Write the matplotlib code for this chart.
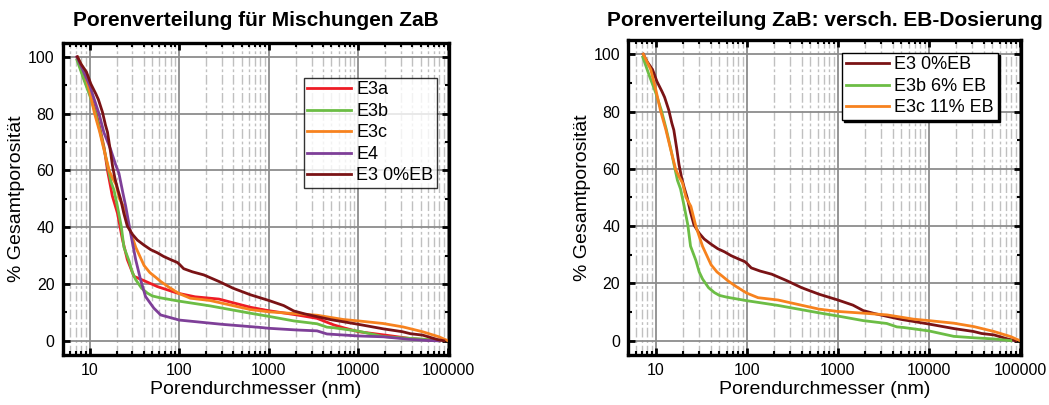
import matplotlib
matplotlib.use("Agg")
import matplotlib.pyplot as plt
from matplotlib.ticker import FixedLocator, LogLocator, NullFormatter, FuncFormatter, MultipleLocator

plt.rcParams["font.family"] = ["Liberation Sans", "DejaVu Sans"]

# pore diameter (nm) and cumulative share of total porosity (%)
e3_0eb_d = [7.3, 8, 9.2, 10.3, 11.7, 12.5, 13.9, 15, 15.8, 17, 18, 19.2, 20.5, 22.2, 24, 26.3,
            30, 34, 40, 48, 57, 67, 80, 95, 100, 112, 140, 188, 277, 400, 624, 1000, 1466,
            1900, 2500, 3450, 5000, 6800, 10000, 19000, 31000, 38000, 52000, 75000, 90000]
e3_0eb_p = [100, 97.5, 94.7, 90.5, 87, 85, 80.5, 76, 73.5, 67, 61.5, 57, 53.5, 49.8, 45, 40.4,
            37.5, 35.5, 33.8, 32.1, 31, 29.7, 28.6, 27.6, 27, 25.4, 24.3, 23.2, 20.9, 18.5, 16.2,
            14.2, 12.4, 10.5, 9.5, 8.5, 7.4, 6.7, 5.8, 4.2, 3.2, 2.5, 2.0, 0.5, 0]

e3a_d = [7.2, 8.5, 10, 11.5, 13, 14.5, 15.8, 17.9, 20.4, 23.2, 26.3, 31.2, 40.3, 56.9, 95, 150,
         277, 624, 1000, 2065, 3450, 5300, 7000, 10000, 20000, 37900, 60000, 80000]
e3a_p = [100, 93, 87, 81.5, 75, 68, 60, 51, 45, 35.7, 28.6, 22.7, 21.2, 19.1, 16.8, 15.5,
         14.7, 11.8, 10.6, 9.1, 7.9, 5.6, 4.5, 3.2, 2.0, 0.8, 0.3, 0]

e3b_d = [7.2, 8.5, 10, 11.5, 13, 14.5, 16, 17.3, 18.7, 20.5, 22.5, 24.1, 27.6, 30, 32.7, 38,
         44, 50, 60, 98, 220, 624, 1000, 1900, 3450, 4460, 5270, 10000, 18800, 31300, 51900, 79400]
e3b_p = [99, 92.5, 86.5, 80.5, 74, 67.5, 61, 56, 53, 47, 40.4, 33, 28, 24, 21.5, 18.5,
         16.8, 15.8, 15.2, 14, 12.3, 9.7, 8.6, 7.0, 6.0, 4.8, 4.6, 3.4, 1.5, 1.0, 0.6, 0]

e3c_d = [7.3, 8.8, 10, 11.3, 12.9, 14.6, 16.6, 18.2, 19.7, 21.5, 24.3, 27.6, 32.7, 40.5, 47,
         54.4, 62, 76.4, 100, 133, 220, 624, 1000, 1900, 3460, 6800, 10000, 18800, 31300,
         51900, 79400, 100000]
e3c_p = [100, 94.7, 87.7, 80.2, 73.7, 66.7, 59.7, 57, 55, 50, 46.9, 39.9, 32.9, 26.5, 24,
         22.4, 20.9, 18.9, 16.6, 15.0, 14.2, 11.0, 10.2, 9.6, 9.0, 7.5, 7.0, 6.1, 4.9,
         3.2, 1.4, 0]

e4_d = [7.2, 8.5, 10, 11.2, 12.7, 14.4, 17.1, 19.5, 21.2, 23.5, 25.2, 28.6, 32.6, 37, 42, 52,
        62, 100, 300, 805, 1000, 2065, 3450, 4460, 10000, 19100, 37900, 60000, 80000]
e4_p = [100, 95, 90, 85.2, 80, 73.4, 67.5, 62, 59, 52, 47.5, 38, 28.6, 21.5, 15.6, 11.5,
        9.1, 7.3, 5.8, 4.7, 4.4, 3.8, 3.5, 2.4, 1.7, 1.4, 0.5, 0.1, 0]

C_RED = "#ee1c25"
C_GREEN = "#6cbd45"
C_ORANGE = "#f7821e"
C_PURPLE = "#7e3f98"
C_DARK = "#7a1315"


def style_axes(ax):
    ax.set_xscale("log")
    ax.set_xlim(5, 1.02e5)
    ax.set_ylim(-5, 105)
    ax.xaxis.set_major_locator(FixedLocator([10, 100, 1000, 10000, 100000]))
    ax.xaxis.set_major_formatter(FuncFormatter(lambda v, p: f"{int(round(v))}"))
    ax.xaxis.set_minor_locator(LogLocator(base=10, subs=range(2, 10), numticks=20))
    ax.xaxis.set_minor_formatter(NullFormatter())
    ax.yaxis.set_major_locator(MultipleLocator(20))
    ax.yaxis.set_minor_locator(MultipleLocator(10))
    ax.grid(True, which="major", color="#8c8c8c", linewidth=1.3, zorder=0)
    ax.grid(True, which="minor", axis="x", color="#c0c0c0", linewidth=1.0,
            linestyle=(0, (7, 2, 2, 2)), zorder=0)
    ax.set_axisbelow(True)
    for s in ax.spines.values():
        s.set_linewidth(2.4)
    ax.tick_params(which="major", direction="in", length=5, width=2,
                   top=True, right=True, labelsize=11.5, pad=6)
    ax.tick_params(which="minor", direction="in", length=3, width=1.5,
                   top=True, right=True)
    ax.set_xlabel("Porendurchmesser (nm)", fontsize=14, labelpad=2)
    ax.set_ylabel("% Gesamtporosität", fontsize=14, labelpad=2)


fig = plt.figure(figsize=(10.49, 4.05), dpi=100)
ax1 = fig.add_axes([0.0598, 0.1235, 0.368, 0.771])
ax2 = fig.add_axes([0.599, 0.1235, 0.374, 0.778])

lw = 2.0
ax1.plot(e3a_d, e3a_p, color=C_RED, lw=lw, label="E3a")
ax1.plot(e3b_d, e3b_p, color=C_GREEN, lw=lw, label="E3b")
ax1.plot(e3c_d, e3c_p, color=C_ORANGE, lw=lw, label="E3c")
ax1.plot(e4_d, e4_p, color=C_PURPLE, lw=lw, label="E4")
ax1.plot(e3_0eb_d, e3_0eb_p, color=C_DARK, lw=lw, label="E3 0%EB")
style_axes(ax1)
ax1.set_title("Porenverteilung für Mischungen ZaB", fontsize=15, fontweight="bold", pad=12)
leg1 = ax1.legend(loc="upper right", bbox_to_anchor=(0.969, 0.888), fontsize=13,
                  frameon=True, fancybox=False, borderpad=0.2, handlelength=2.4,
                  handletextpad=0.3, labelspacing=0.25, borderaxespad=0)
leg1.get_frame().set_edgecolor("black")
leg1.get_frame().set_linewidth(1.0)

ax2.plot(e3_0eb_d, e3_0eb_p, color=C_DARK, lw=lw, label="E3 0%EB")
ax2.plot(e3b_d, e3b_p, color=C_GREEN, lw=lw, label="E3b 6% EB")
ax2.plot(e3c_d, e3c_p, color=C_ORANGE, lw=lw, label="E3c 11% EB")
style_axes(ax2)
ax2.set_title("Porenverteilung ZaB: versch. EB-Dosierung", fontsize=15, fontweight="bold", pad=10)
leg2 = ax2.legend(loc="upper right", bbox_to_anchor=(0.941, 0.959), fontsize=13,
                  frameon=True, fancybox=False, borderpad=0.2, handlelength=2.4,
                  handletextpad=0.3, labelspacing=0.25, borderaxespad=0,
                  shadow={"color": "black", "alpha": 1, "ox": 1.5, "oy": -1.5})
leg2.get_frame().set_edgecolor("black")
leg2.get_frame().set_linewidth(1.0)

fig.savefig("out.png", dpi=100)
